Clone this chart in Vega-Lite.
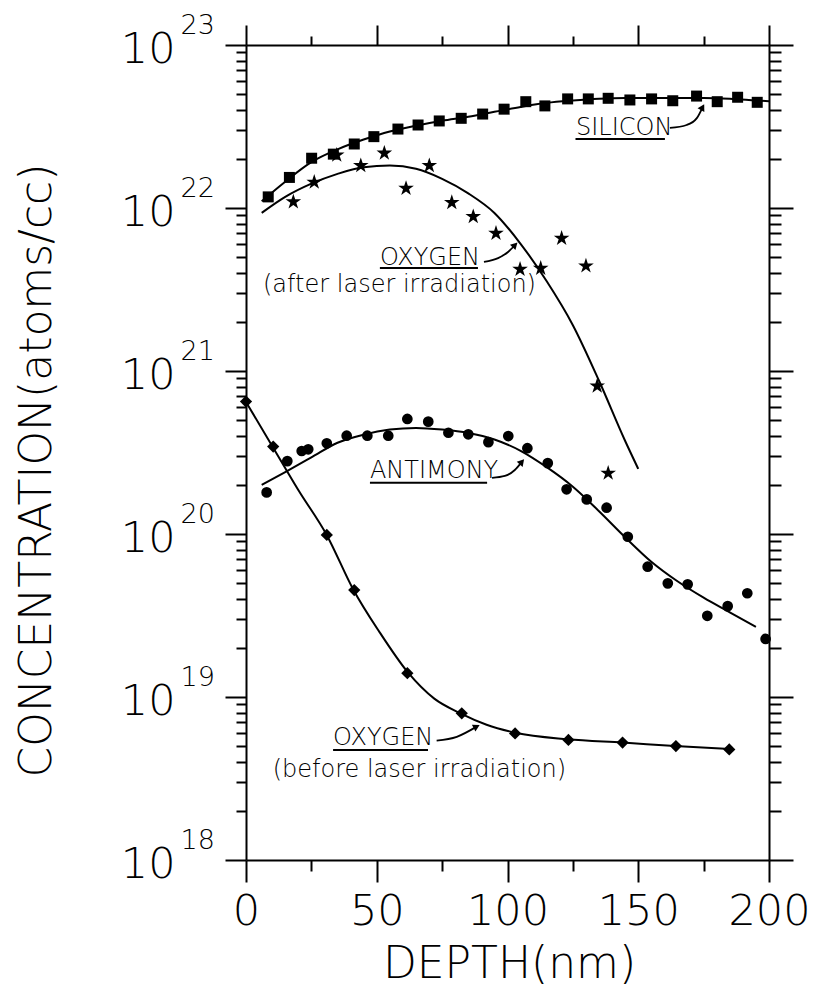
{
  "$schema": "https://vega.github.io/schema/vega-lite/v6.json",
  "width": 523,
  "height": 815,
  "autosize": {"type": "none"},
  "padding": {"left": 246, "top": 45, "right": 46, "bottom": 126},
  "background": "white",
  "config": {
    "view": {"stroke": null},
    "axis": {
      "grid": false,
      "domainColor": "black",
      "domainWidth": 2,
      "tickColor": "black",
      "tickWidth": 2,
      "labelColor": "black",
      "titleColor": "black",
      "labelFont": "DejaVu Sans",
      "titleFont": "DejaVu Sans",
      "labelFontWeight": 300,
      "titleFontWeight": 300,
      "labelFlush": false
    }
  },
  "datasets": {
    "siliconFit": [
      {"depth": 6, "conc": 1.10e22}, {"depth": 15, "conc": 1.45e22}, {"depth": 25, "conc": 1.91e22},
      {"depth": 35, "conc": 2.29e22}, {"depth": 45, "conc": 2.63e22}, {"depth": 55, "conc": 2.95e22},
      {"depth": 65, "conc": 3.20e22}, {"depth": 75, "conc": 3.43e22}, {"depth": 85, "conc": 3.63e22},
      {"depth": 95, "conc": 3.89e22}, {"depth": 105, "conc": 4.17e22}, {"depth": 115, "conc": 4.42e22},
      {"depth": 125, "conc": 4.57e22}, {"depth": 135, "conc": 4.68e22}, {"depth": 145, "conc": 4.73e22},
      {"depth": 155, "conc": 4.73e22}, {"depth": 165, "conc": 4.73e22}, {"depth": 175, "conc": 4.73e22},
      {"depth": 185, "conc": 4.68e22}, {"depth": 195, "conc": 4.57e22}, {"depth": 200, "conc": 4.52e22}
    ],
    "silicon": [
      {"depth": 8.5, "conc": 1.17e22}, {"depth": 16.6, "conc": 1.54e22}, {"depth": 25.1, "conc": 2.02e22},
      {"depth": 33.4, "conc": 2.14e22}, {"depth": 41.4, "conc": 2.47e22}, {"depth": 48.9, "conc": 2.74e22},
      {"depth": 58.1, "conc": 3.05e22}, {"depth": 65.8, "conc": 3.23e22}, {"depth": 73.9, "conc": 3.42e22},
      {"depth": 82.3, "conc": 3.55e22}, {"depth": 90.5, "conc": 3.77e22}, {"depth": 98.7, "conc": 4.04e22},
      {"depth": 107, "conc": 4.49e22}, {"depth": 114.3, "conc": 4.23e22}, {"depth": 123, "conc": 4.67e22},
      {"depth": 130.9, "conc": 4.67e22}, {"depth": 138.5, "conc": 4.71e22}, {"depth": 146.8, "conc": 4.60e22},
      {"depth": 155.1, "conc": 4.67e22}, {"depth": 163.2, "conc": 4.55e22}, {"depth": 172.3, "conc": 4.86e22},
      {"depth": 180.2, "conc": 4.49e22}, {"depth": 188, "conc": 4.78e22}, {"depth": 195.5, "conc": 4.45e22}
    ],
    "oxygenAfterFit": [
      {"depth": 6, "conc": 9.33e21}, {"depth": 15, "conc": 1.17e22}, {"depth": 25, "conc": 1.41e22},
      {"depth": 35, "conc": 1.62e22}, {"depth": 45, "conc": 1.78e22}, {"depth": 55, "conc": 1.82e22},
      {"depth": 65, "conc": 1.74e22}, {"depth": 75, "conc": 1.51e22}, {"depth": 85, "conc": 1.23e22},
      {"depth": 95, "conc": 9.33e21}, {"depth": 105, "conc": 6.03e21}, {"depth": 115, "conc": 3.55e21},
      {"depth": 125, "conc": 1.91e21}, {"depth": 135, "conc": 8.71e20}, {"depth": 145, "conc": 3.72e20},
      {"depth": 150, "conc": 2.51e20}
    ],
    "oxygenAfter": [
      {"depth": 18.1, "conc": 1.09e22}, {"depth": 26.1, "conc": 1.44e22}, {"depth": 34.7, "conc": 2.11e22},
      {"depth": 43.9, "conc": 1.82e22}, {"depth": 52.9, "conc": 2.17e22}, {"depth": 61.2, "conc": 1.32e22},
      {"depth": 70.1, "conc": 1.82e22}, {"depth": 78.7, "conc": 1.08e22}, {"depth": 86.9, "conc": 8.85e21},
      {"depth": 95.6, "conc": 7.0e21}, {"depth": 104.8, "conc": 4.21e21}, {"depth": 112.7, "conc": 4.27e21},
      {"depth": 120.7, "conc": 6.52e21}, {"depth": 130, "conc": 4.41e21}, {"depth": 134.3, "conc": 8.09e20},
      {"depth": 138.5, "conc": 2.36e20}
    ],
    "antimonyFit": [
      {"depth": 6, "conc": 2.00e20}, {"depth": 15, "conc": 2.40e20}, {"depth": 25, "conc": 2.95e20},
      {"depth": 35, "conc": 3.63e20}, {"depth": 45, "conc": 4.07e20}, {"depth": 55, "conc": 4.37e20},
      {"depth": 65, "conc": 4.47e20}, {"depth": 75, "conc": 4.37e20}, {"depth": 85, "conc": 4.17e20},
      {"depth": 95, "conc": 3.80e20}, {"depth": 105, "conc": 3.24e20}, {"depth": 115, "conc": 2.57e20},
      {"depth": 125, "conc": 1.95e20}, {"depth": 135, "conc": 1.38e20}, {"depth": 145, "conc": 9.55e19},
      {"depth": 155, "conc": 6.76e19}, {"depth": 165, "conc": 5.13e19}, {"depth": 175, "conc": 4.07e19},
      {"depth": 185, "conc": 3.31e19}, {"depth": 195, "conc": 2.69e19}
    ],
    "antimony": [
      {"depth": 7.9, "conc": 1.80e20}, {"depth": 15.8, "conc": 2.80e20}, {"depth": 21.3, "conc": 3.23e20},
      {"depth": 23.8, "conc": 3.31e20}, {"depth": 30.9, "conc": 3.60e20}, {"depth": 38.5, "conc": 4.01e20},
      {"depth": 46.4, "conc": 4.01e20}, {"depth": 54.4, "conc": 4.01e20}, {"depth": 61.7, "conc": 5.08e20},
      {"depth": 69.7, "conc": 4.89e20}, {"depth": 77.4, "conc": 4.18e20}, {"depth": 85, "conc": 4.09e20},
      {"depth": 92.7, "conc": 3.66e20}, {"depth": 100.3, "conc": 3.99e20}, {"depth": 107.6, "conc": 3.36e20},
      {"depth": 115.4, "conc": 2.72e20}, {"depth": 122.6, "conc": 1.88e20}, {"depth": 130.3, "conc": 1.63e20},
      {"depth": 137.9, "conc": 1.45e20}, {"depth": 146, "conc": 9.62e19}, {"depth": 153.6, "conc": 6.30e19},
      {"depth": 161.3, "conc": 4.98e19}, {"depth": 168.9, "conc": 4.91e19}, {"depth": 176.4, "conc": 3.15e19},
      {"depth": 184.2, "conc": 3.61e19}, {"depth": 191.7, "conc": 4.33e19}, {"depth": 198.7, "conc": 2.27e19}
    ],
    "oxygenBeforeFit": [
      {"depth": 0, "conc": 6.46e20}, {"depth": 10, "conc": 3.47e20}, {"depth": 20, "conc": 1.86e20},
      {"depth": 31, "conc": 9.77e19}, {"depth": 41, "conc": 4.57e19}, {"depth": 51, "conc": 2.51e19},
      {"depth": 62, "conc": 1.41e19}, {"depth": 72, "conc": 9.77e18}, {"depth": 82, "conc": 7.94e18},
      {"depth": 92, "conc": 6.76e18}, {"depth": 103, "conc": 6.03e18}, {"depth": 123, "conc": 5.50e18},
      {"depth": 144, "conc": 5.25e18}, {"depth": 164, "conc": 5.01e18}, {"depth": 185, "conc": 4.79e18}
    ],
    "oxygenBefore": [
      {"depth": 0, "conc": 6.49e20}, {"depth": 10.4, "conc": 3.44e20}, {"depth": 30.9, "conc": 9.86e19},
      {"depth": 41.4, "conc": 4.53e19}, {"depth": 61.7, "conc": 1.40e19}, {"depth": 82.5, "conc": 7.94e18},
      {"depth": 102.9, "conc": 5.98e18}, {"depth": 123.3, "conc": 5.45e18}, {"depth": 144, "conc": 5.25e18},
      {"depth": 164.4, "conc": 5.00e18}, {"depth": 184.8, "conc": 4.77e18}
    ],
    "notes": [
      {"depth": 126.2, "conc": 2.81e22, "label": "SILICON"},
      {"depth": 51.2, "conc": 4.47e21, "label": "OXYGEN"},
      {"depth": 6.5, "conc": 3.05e21, "label": "(after laser irradiation)"},
      {"depth": 47.4, "conc": 2.21e20, "label": "ANTIMONY"},
      {"depth": 33.3, "conc": 5.08e18, "label": "OXYGEN"},
      {"depth": 10.2, "conc": 3.24e18, "label": "(before laser irradiation)"}
    ],
    "underlines": [
      {"depth": 126, "depth2": 160.2, "conc": 2.65e22},
      {"depth": 51.2, "depth2": 88.7, "conc": 4.29e21},
      {"depth": 47.4, "depth2": 92.2, "conc": 2.06e20},
      {"depth": 33.3, "depth2": 69.6, "conc": 4.73e18}
    ],
    "pointers": [
      {"arrow": "silicon", "depth": 162.1, "conc": 3.10e22}, {"arrow": "silicon", "depth": 168.5, "conc": 3.23e22},
      {"arrow": "silicon", "depth": 172.4, "conc": 3.56e22}, {"arrow": "silicon", "depth": 174.6, "conc": 4.15e22},
      {"arrow": "oxygenAfter", "depth": 91.0, "conc": 4.67e21}, {"arrow": "oxygenAfter", "depth": 96.4, "conc": 4.93e21},
      {"arrow": "oxygenAfter", "depth": 100.2, "conc": 5.37e21}, {"arrow": "oxygenAfter", "depth": 102.9, "conc": 5.93e21},
      {"arrow": "antimony", "depth": 94.1, "conc": 2.21e20}, {"arrow": "antimony", "depth": 99.0, "conc": 2.27e20},
      {"arrow": "antimony", "depth": 102.8, "conc": 2.47e20}, {"arrow": "antimony", "depth": 105.5, "conc": 2.77e20},
      {"arrow": "oxygenBefore", "depth": 72.9, "conc": 5.40e18}, {"arrow": "oxygenBefore", "depth": 80.6, "conc": 5.70e18},
      {"arrow": "oxygenBefore", "depth": 88.2, "conc": 6.58e18}
    ],
    "heads": [
      {"depth": 174.6, "conc": 4.15e22, "angle": 29},
      {"depth": 102.9, "conc": 5.93e21, "angle": 45},
      {"depth": 105.5, "conc": 2.77e20, "angle": 41},
      {"depth": 88.2, "conc": 6.58e18, "angle": 63}
    ]
  },
  "resolve": {"axis": {"x": "independent", "y": "independent"}},
  "layer": [
    {
      "data": {"name": "siliconFit"},
      "mark": {"type": "line", "interpolate": "monotone", "color": "black", "strokeWidth": 2},
      "encoding": {
        "x": {
          "field": "depth", "type": "quantitative",
          "scale": {"domain": [0, 200], "nice": false, "zero": false},
          "axis": {
            "orient": "bottom", "title": null, "labels": false,
            "values": [0, 25, 50, 75, 100, 125, 150, 175, 200],
            "tickSize": {"condition": {"test": "datum.value % 50 === 0", "value": 22}, "value": 11}
          }
        },
        "y": {
          "field": "conc", "type": "quantitative",
          "scale": {"type": "log", "domain": [1e18, 1e23], "nice": false},
          "axis": {
            "orient": "left", "title": null, "labels": false,
            "values": [1e18, 2e18, 3e18, 4e18, 5e18, 6e18, 7e18, 8e18, 9e18,
                       1e19, 2e19, 3e19, 4e19, 5e19, 6e19, 7e19, 8e19, 9e19,
                       1e20, 2e20, 3e20, 4e20, 5e20, 6e20, 7e20, 8e20, 9e20,
                       1e21, 2e21, 3e21, 4e21, 5e21, 6e21, 7e21, 8e21, 9e21,
                       1e22, 2e22, 3e22, 4e22, 5e22, 6e22, 7e22, 8e22, 9e22, 1e23],
            "tickSize": {"condition": {"test": "abs(log(datum.value) / LN10 - round(log(datum.value) / LN10)) < 0.01", "value": 21}, "value": 10}
          }
        }
      }
    },
    {
      "data": {"name": "silicon"},
      "mark": {"type": "point", "shape": "square", "filled": true, "color": "black", "size": 121, "opacity": 1},
      "encoding": {
        "x": {
          "field": "depth", "type": "quantitative",
          "scale": {"domain": [0, 200], "nice": false, "zero": false},
          "axis": {
            "orient": "top", "title": null, "labels": false,
            "values": [0, 25, 50, 75, 100, 125, 150, 175, 200],
            "tickSize": {"condition": {"test": "datum.value % 50 === 0", "value": 20}, "value": 9}
          }
        },
        "y": {
          "field": "conc", "type": "quantitative",
          "scale": {"type": "log", "domain": [1e18, 1e23], "nice": false},
          "axis": {
            "orient": "right", "title": null, "labels": false,
            "values": [1e18, 2e18, 3e18, 4e18, 5e18, 6e18, 7e18, 8e18, 9e18,
                       1e19, 2e19, 3e19, 4e19, 5e19, 6e19, 7e19, 8e19, 9e19,
                       1e20, 2e20, 3e20, 4e20, 5e20, 6e20, 7e20, 8e20, 9e20,
                       1e21, 2e21, 3e21, 4e21, 5e21, 6e21, 7e21, 8e21, 9e21,
                       1e22, 2e22, 3e22, 4e22, 5e22, 6e22, 7e22, 8e22, 9e22, 1e23],
            "tickSize": {"condition": {"test": "abs(log(datum.value) / LN10 - round(log(datum.value) / LN10)) < 0.01", "value": 24}, "value": 12}
          }
        }
      }
    },
    {
      "data": {"name": "oxygenAfterFit"},
      "mark": {"type": "line", "interpolate": "monotone", "color": "black", "strokeWidth": 2},
      "encoding": {
        "x": {
          "field": "depth", "type": "quantitative",
          "scale": {"domain": [0, 200], "nice": false, "zero": false},
          "axis": {
            "orient": "bottom", "values": [0, 50, 100, 150, 200],
            "domain": false, "ticks": false, "tickSize": 0,
            "labelFontSize": 43, "labelPadding": 64, "labelBaseline": "alphabetic", "labelAlign": "center",
            "title": "DEPTH(nm)", "titleFontSize": 44, "titleX": 263, "titleY": 117,
            "titleAlign": "center", "titleBaseline": "alphabetic"
          }
        },
        "y": {
          "field": "conc", "type": "quantitative",
          "scale": {"type": "log", "domain": [1e18, 1e23], "nice": false},
          "axis": {
            "orient": "left", "values": [1e18, 1e19, 1e20, 1e21, 1e22, 1e23],
            "domain": false, "ticks": false, "tickSize": 0,
            "labelExpr": "'10'", "labelFontSize": 43, "labelPadding": 71,
            "labelAlign": "right", "labelBaseline": "alphabetic", "labelOffset": 17,
            "title": "CONCENTRATION(atoms/cc)", "titleFontSize": 44, "titleX": -196, "titleY": 425,
            "titleAlign": "center", "titleBaseline": "alphabetic", "titleAngle": -90
          }
        }
      }
    },
    {
      "data": {"name": "oxygenAfter"},
      "mark": {
        "type": "point", "filled": true, "color": "black", "size": 270, "opacity": 1,
        "shape": "M0,-1L0.225,-0.309L0.951,-0.309L0.363,0.118L0.588,0.809L0,0.382L-0.588,0.809L-0.363,0.118L-0.951,-0.309L-0.225,-0.309Z"
      },
      "encoding": {
        "x": {"field": "depth", "type": "quantitative", "scale": {"domain": [0, 200], "nice": false, "zero": false}, "axis": null},
        "y": {
          "field": "conc", "type": "quantitative",
          "scale": {"type": "log", "domain": [1e18, 1e23], "nice": false},
          "axis": {
            "orient": "left", "values": [1e18, 1e19, 1e20, 1e21, 1e22, 1e23],
            "domain": false, "ticks": false, "tickSize": 0, "title": null,
            "labelExpr": "format(log(datum.value) / LN10, '.0f')", "labelFontSize": 27, "labelPadding": 66,
            "labelAlign": "left", "labelBaseline": "alphabetic", "labelOffset": -12
          }
        }
      }
    },
    {
      "data": {"name": "antimonyFit"},
      "mark": {"type": "line", "interpolate": "monotone", "color": "black", "strokeWidth": 2},
      "encoding": {
        "x": {"field": "depth", "type": "quantitative", "scale": {"domain": [0, 200], "nice": false, "zero": false}, "axis": null},
        "y": {"field": "conc", "type": "quantitative", "scale": {"type": "log", "domain": [1e18, 1e23], "nice": false}, "axis": null}
      }
    },
    {
      "data": {"name": "antimony"},
      "mark": {"type": "point", "shape": "circle", "filled": true, "color": "black", "size": 115, "opacity": 1},
      "encoding": {
        "x": {"field": "depth", "type": "quantitative", "scale": {"domain": [0, 200], "nice": false, "zero": false}, "axis": null},
        "y": {"field": "conc", "type": "quantitative", "scale": {"type": "log", "domain": [1e18, 1e23], "nice": false}, "axis": null}
      }
    },
    {
      "data": {"name": "oxygenBeforeFit"},
      "mark": {"type": "line", "interpolate": "monotone", "color": "black", "strokeWidth": 2},
      "encoding": {
        "x": {"field": "depth", "type": "quantitative", "scale": {"domain": [0, 200], "nice": false, "zero": false}, "axis": null},
        "y": {"field": "conc", "type": "quantitative", "scale": {"type": "log", "domain": [1e18, 1e23], "nice": false}, "axis": null}
      }
    },
    {
      "data": {"name": "oxygenBefore"},
      "mark": {"type": "point", "shape": "diamond", "filled": true, "color": "black", "size": 150, "opacity": 1},
      "encoding": {
        "x": {"field": "depth", "type": "quantitative", "scale": {"domain": [0, 200], "nice": false, "zero": false}, "axis": null},
        "y": {"field": "conc", "type": "quantitative", "scale": {"type": "log", "domain": [1e18, 1e23], "nice": false}, "axis": null}
      }
    },
    {
      "data": {"name": "notes"},
      "mark": {"type": "text", "align": "left", "baseline": "alphabetic", "font": "DejaVu Sans", "fontSize": 24, "fontWeight": 300, "color": "black"},
      "encoding": {
        "x": {"field": "depth", "type": "quantitative", "scale": {"domain": [0, 200], "nice": false, "zero": false}, "axis": null},
        "y": {"field": "conc", "type": "quantitative", "scale": {"type": "log", "domain": [1e18, 1e23], "nice": false}, "axis": null},
        "text": {"field": "label"}
      }
    },
    {
      "data": {"name": "underlines"},
      "mark": {"type": "rule", "color": "black", "strokeWidth": 2},
      "encoding": {
        "x": {"field": "depth", "type": "quantitative", "scale": {"domain": [0, 200], "nice": false, "zero": false}, "axis": null},
        "x2": {"field": "depth2"},
        "y": {"field": "conc", "type": "quantitative", "scale": {"type": "log", "domain": [1e18, 1e23], "nice": false}, "axis": null}
      }
    },
    {
      "data": {"name": "pointers"},
      "mark": {"type": "line", "interpolate": "monotone", "color": "black", "strokeWidth": 1.8},
      "encoding": {
        "x": {"field": "depth", "type": "quantitative", "scale": {"domain": [0, 200], "nice": false, "zero": false}, "axis": null},
        "y": {"field": "conc", "type": "quantitative", "scale": {"type": "log", "domain": [1e18, 1e23], "nice": false}, "axis": null},
        "detail": {"field": "arrow"}
      }
    },
    {
      "data": {"name": "heads"},
      "mark": {"type": "point", "shape": "triangle-up", "filled": true, "color": "black", "size": 60, "opacity": 1},
      "encoding": {
        "x": {"field": "depth", "type": "quantitative", "scale": {"domain": [0, 200], "nice": false, "zero": false}, "axis": null},
        "y": {"field": "conc", "type": "quantitative", "scale": {"type": "log", "domain": [1e18, 1e23], "nice": false}, "axis": null},
        "angle": {"field": "angle", "type": "quantitative", "scale": null}
      }
    }
  ]
}
